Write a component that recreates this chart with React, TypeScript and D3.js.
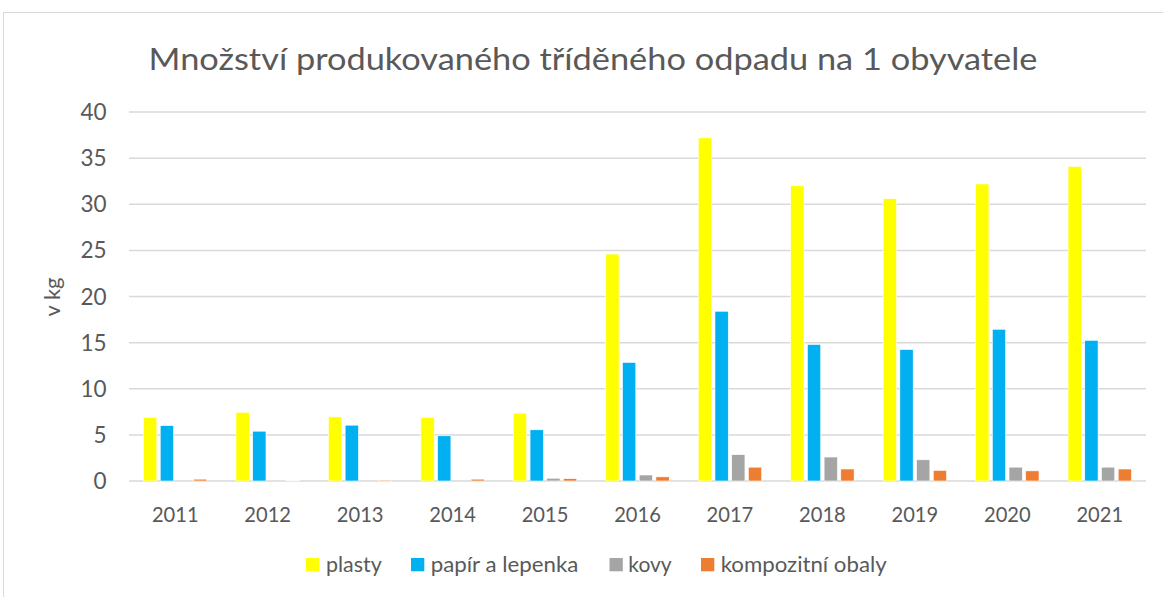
import React from "react";
import * as d3 from "d3";

const years = ["2011","2012","2013","2014","2015","2016","2017","2018","2019","2020","2021"];
const seriesNames = ["plasty","papír a lepenka","kovy","kompozitní obaly"];
const seriesColors = ["#FFFF00","#00B0F0","#A5A5A5","#ED7D31"];
const plasty = [6.9,7.45,6.95,6.9,7.35,24.6,37.2,32.0,30.6,32.2,34.1];
const papir = [6.0,5.4,6.05,4.9,5.55,12.85,18.4,14.8,14.25,16.45,15.25];
const kovy = [0,0,0,0,0.3,0.65,2.85,2.6,2.3,1.5,1.5];
const kompozitni = [0.2,0.05,0.1,0.2,0.25,0.45,1.5,1.3,1.15,1.1,1.3];
const yTicks = [0,5,10,15,20,25,30,35,40];

const W = 1163, H = 597;
const FONT = "Lato, 'Open Sans', sans-serif";
const TXT = "#595959";

export default function App() {
  const data = [plasty, papir, kovy, kompozitni];
  const x = d3.scaleBand<string>().domain(years).range([129, 1146]).paddingInner(0).paddingOuter(0);
  const y = d3.scaleLinear().domain([0, 40]).range([481, 112]);
  const barW = 13.3;
  const step = 16.7;
  const groupW = barW * 4 + (step - barW) * 3;

  const legendItems = [
    { sq: 306, tx: 326, w: 55.7 },
    { sq: 411, tx: 430.7, w: 147.6 },
    { sq: 609.5, tx: 628.3, w: 43.4 },
    { sq: 701, tx: 720.7, w: 166 },
  ];

  return (
    <svg width={W} height={H} style={{ position: "absolute", left: 0, top: 0, background: "#fff" }}>
      <rect x={3.5} y={12.5} width={1200} height={700} fill="#fff" stroke="#d9d9d9" strokeWidth={1} />
      <text x={593} y={70} textAnchor="middle" fontFamily={FONT} fontWeight={400} fontSize={31} fill={TXT} textLength={889} lengthAdjust="spacingAndGlyphs">
        Množství produkovaného tříděného odpadu na 1 obyvatele
      </text>
      {yTicks.map((t) => (
        <g key={t}>
          <line x1={129} x2={1146} y1={y(t)} y2={y(t)} stroke="#d9d9d9" strokeWidth={1.5} />
          <text x={106.5} y={y(t) + 8} textAnchor="end" fontFamily={FONT} fontSize={22.5} fill={TXT}>{t}</text>
        </g>
      ))}
      <text transform={`translate(60,297) rotate(-90)`} textAnchor="middle" fontFamily={FONT} fontSize={22} fill={TXT}>v kg</text>
      {years.map((yr, i) => {
        const cx = (x(yr) as number) + x.bandwidth() / 2;
        const start = cx - groupW / 2;
        return (
          <g key={yr}>
            {data.map((s, k) => {
              const v = s[i];
              if (v <= 0) return null;
              return (
                <rect key={k} x={start + k * step} y={y(v)} width={barW} height={y(0) - y(v)}
                  fill={seriesColors[k]} stroke="#fff" strokeWidth={0.6} />
              );
            })}
            <text x={cx} y={521.5} textAnchor="middle" fontFamily={FONT} fontSize={22} fill={TXT} textLength={46.7} lengthAdjust="spacingAndGlyphs">{yr}</text>
          </g>
        );
      })}
      {seriesNames.map((n, k) => (
        <g key={n}>
          <rect x={legendItems[k].sq} y={558} width={13.3} height={13.3} fill={seriesColors[k]} />
          <text x={legendItems[k].tx} y={572} fontFamily={FONT} fontSize={22} fill={TXT} textLength={legendItems[k].w} lengthAdjust="spacingAndGlyphs">{n}</text>
        </g>
      ))}
    </svg>
  );
}
